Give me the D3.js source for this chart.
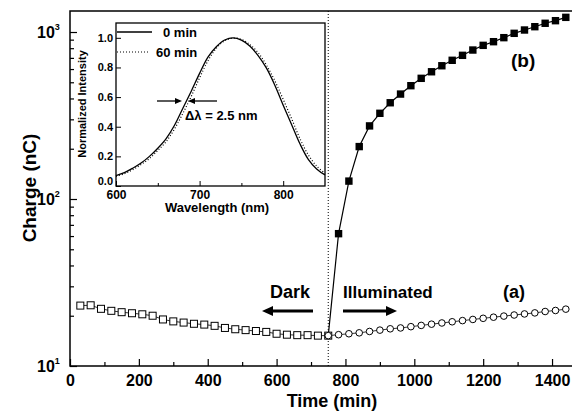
<!DOCTYPE html>
<html>
<head>
<meta charset="utf-8">
<script src="https://d3js.org/d3.v7.min.js"></script>
<style>
  body { margin: 0; background: #fff; }
  text { font-family: "Liberation Sans", Arial, sans-serif; font-weight: bold; fill: #000; }
</style>
</head>
<body>
<div id="chart"></div>
<script>
// Main chart data: charge vs time
var darkTime = [30, 60, 90, 120, 150, 180, 210, 240, 270, 300, 330, 360, 390,
  420, 450, 480, 510, 540, 570, 600, 630, 660, 690, 720, 750];
var darkCharge = [23.0, 23.1, 22.0, 21.4, 21.0, 20.7, 20.4, 20.0, 19.0, 18.5, 18.2,
  17.9, 17.7, 17.4, 16.9, 16.6, 16.4, 16.2, 16.0, 15.6, 15.4, 15.3, 15.3, 15.2, 15.2];

var lightTime = [750, 780, 810, 840, 870, 900, 930, 960, 990, 1020, 1050, 1080,
  1110, 1140, 1170, 1200, 1230, 1260, 1290, 1320, 1350, 1380, 1410, 1440];
var lightChargeA = [15.2, 15.4, 15.6, 15.8, 16.1, 16.4, 16.7, 16.9, 17.2, 17.5, 17.8,
  18.1, 18.4, 18.7, 19.0, 19.3, 19.6, 19.9, 20.2, 20.5, 20.8, 21.2, 21.5, 21.9];
var lightChargeB = [15.2, 62, 128, 206, 274, 326, 377, 425, 477, 528, 578, 628,
  677, 725, 780, 832, 875, 925, 982, 1028, 1076, 1128, 1169, 1224];

var xTicks = [0, 200, 400, 600, 800, 1000, 1200, 1400];
var xMinor = [100, 300, 500, 700, 900, 1100, 1300];
var yTicks = [10, 100, 1000];
var yTickExp = ["1", "2", "3"];
var yMinor = [20, 30, 40, 50, 60, 70, 80, 90, 200, 300, 400, 500, 600, 700, 800, 900];

// Inset data: normalized spectrum
var wavelength = [600, 610, 620, 630, 640, 650, 660, 670, 680, 690, 700, 710, 720,
  730, 740, 750, 760, 770, 780, 790, 800, 810, 820, 830, 840, 850];
var spec0 = [0.07, 0.09, 0.12, 0.155, 0.20, 0.255, 0.32, 0.41, 0.525, 0.64, 0.76,
  0.87, 0.94, 0.985, 1.0, 0.985, 0.945, 0.88, 0.795, 0.68, 0.545, 0.415, 0.285,
  0.18, 0.115, 0.075];
var spec60 = [0.065, 0.083, 0.11, 0.145, 0.185, 0.24, 0.30, 0.385, 0.49, 0.605, 0.73,
  0.845, 0.93, 0.98, 0.998, 0.99, 0.955, 0.9, 0.815, 0.71, 0.585, 0.455, 0.32,
  0.21, 0.135, 0.085];
var insetXTicks = [600, 700, 800];
var insetXMinor = [650, 750];
var insetYTicks = [0, 0.2, 0.4, 0.6, 0.8, 1.0];

var width = 572, height = 413;

var svg = d3.select("#chart").append("svg")
  .attr("width", width)
  .attr("height", height);

// scales of the main plot
var x = d3.scaleLinear().domain([0, 1460]).range([70, 572.7]);
var y = d3.scaleLog().domain([10, 1336]).range([366, 11]);

// frame
svg.append("path")
  .attr("d", "M575,11 H70 V366 H575")
  .attr("fill", "none")
  .attr("stroke", "#000")
  .attr("stroke-width", 1.5);

// x axis (ticks inward)
var gx = svg.append("g").attr("transform", "translate(0,366)");
gx.call(d3.axisBottom(x).tickValues(xTicks).tickSize(-7).tickPadding(9).tickFormat(d3.format("d")));
gx.append("g").call(d3.axisBottom(x).tickValues(xMinor).tickSize(-4).tickFormat(""));
gx.selectAll(".domain").remove();
gx.selectAll("line").attr("stroke-width", 1.2);
gx.selectAll("text").style("font-size", "16px");

// y axis (ticks inward, labels drawn by hand for the exponent)
var gy = svg.append("g").attr("transform", "translate(70,0)");
gy.call(d3.axisLeft(y).tickValues(yTicks).tickSize(-7).tickFormat(""));
gy.append("g").call(d3.axisLeft(y).tickValues(yMinor).tickSize(-4).tickFormat(""));
gy.selectAll(".domain").remove();
gy.selectAll("line").attr("stroke-width", 1.2);

yTicks.forEach(function(v, i) {
  var t = svg.append("text")
    .attr("x", 37)
    .attr("y", y(v) + 6)
    .style("font-size", "16px");
  t.append("tspan").text("10");
  t.append("tspan").attr("dy", -8).style("font-size", "9px").text(yTickExp[i]);
});

// axis titles
svg.append("text")
  .attr("x", 332).attr("y", 407)
  .attr("text-anchor", "middle")
  .style("font-size", "18px")
  .text("Time (min)");

svg.append("text")
  .attr("transform", "translate(36,188) rotate(-90)")
  .attr("text-anchor", "middle")
  .style("font-size", "19px")
  .text("Charge (nC)");

// the dotted line where light is switched on
svg.append("line")
  .attr("x1", x(750)).attr("x2", x(750))
  .attr("y1", 11).attr("y2", 366)
  .attr("stroke", "#000")
  .attr("stroke-width", 1)
  .attr("stroke-dasharray", "1,2");

var line = d3.line()
  .x(function(d) { return x(d[0]); })
  .y(function(d) { return y(d[1]); });

var dark = d3.zip(darkTime, darkCharge);
var lightA = d3.zip(lightTime, lightChargeA);
var lightB = d3.zip(lightTime, lightChargeB);

// series lines
[dark, lightA].forEach(function(s) {
  svg.append("path").datum(s)
    .attr("d", line)
    .attr("fill", "none")
    .attr("stroke", "#000")
    .attr("stroke-width", 0.8);
});
svg.append("path").datum(lightB)
  .attr("d", line)
  .attr("fill", "none")
  .attr("stroke", "#000")
  .attr("stroke-width", 1.2);

// open squares in the dark
svg.selectAll(".sq").data(dark).enter().append("rect")
  .attr("class", "sq")
  .attr("x", function(d) { return x(d[0]) - 3.5; })
  .attr("y", function(d) { return y(d[1]) - 3.5; })
  .attr("width", 7).attr("height", 7)
  .attr("fill", "#fff")
  .attr("stroke", "#000")
  .attr("stroke-width", 1);

// open circles, illuminated (a)
svg.selectAll(".ci").data(lightA).enter().append("circle")
  .attr("class", "ci")
  .attr("cx", function(d) { return x(d[0]); })
  .attr("cy", function(d) { return y(d[1]); })
  .attr("r", 3.3)
  .attr("fill", "#fff")
  .attr("stroke", "#000")
  .attr("stroke-width", 1);

// filled squares, illuminated (b)
svg.selectAll(".fs").data(lightB.slice(1)).enter().append("rect")
  .attr("class", "fs")
  .attr("x", function(d) { return x(d[0]) - 3.7; })
  .attr("y", function(d) { return y(d[1]) - 3.7; })
  .attr("width", 7.4).attr("height", 7.4)
  .attr("fill", "#000");

// annotations
function label(tx, ty, s, size) {
  svg.append("text").attr("x", tx).attr("y", ty)
    .style("font-size", size + "px").text(s);
}
label(270, 298, "Dark", 18);
label(343, 298, "Illuminated", 17);
label(503, 298, "(a)", 18);
label(511, 67, "(b)", 19);

function bigArrow(x1, x2, yy) {
  var dir = x2 > x1 ? 1 : -1;
  svg.append("line")
    .attr("x1", x1).attr("x2", x2 - dir * 8)
    .attr("y1", yy).attr("y2", yy)
    .attr("stroke", "#000").attr("stroke-width", 3);
  svg.append("path")
    .attr("d", "M" + x2 + "," + yy + " L" + (x2 - dir * 11) + "," + (yy - 5) +
      " L" + (x2 - dir * 11) + "," + (yy + 5) + " Z")
    .attr("fill", "#000");
}
bigArrow(313, 262, 311);
bigArrow(343, 397, 311);

// ---- inset ----
var ix = d3.scaleLinear().domain([600, 850]).range([116, 325]);
var iy = d3.scaleLinear().domain([0, 1.1]).range([186, 23]);

var inset = svg.append("g");
inset.append("rect")
  .attr("x", 116).attr("y", 23)
  .attr("width", 209).attr("height", 163)
  .attr("fill", "#fff")
  .attr("stroke", "#000")
  .attr("stroke-width", 1.3);

var gix = inset.append("g").attr("transform", "translate(0,186)");
gix.call(d3.axisBottom(ix).tickValues(insetXTicks).tickSize(-5).tickPadding(4).tickFormat(d3.format("d")));
gix.append("g").call(d3.axisBottom(ix).tickValues(insetXMinor).tickSize(-3).tickFormat(""));
gix.selectAll(".domain").remove();
gix.selectAll("text").style("font-size", "12px");

var giy = inset.append("g").attr("transform", "translate(116,0)");
giy.call(d3.axisLeft(iy).tickValues(insetYTicks).tickSize(-5).tickPadding(3).tickFormat(d3.format(".1f")));
giy.selectAll(".domain").remove();
giy.selectAll("text").style("font-size", "11px")
  .attr("dy", function(d) { return d === 0 ? "-0.1em" : "0.3em"; });

inset.append("text")
  .attr("x", 217).attr("y", 212)
  .attr("text-anchor", "middle")
  .style("font-size", "13px")
  .text("Wavelength (nm)");

inset.append("text")
  .attr("transform", "translate(86,104) rotate(-90)")
  .attr("text-anchor", "middle")
  .style("font-size", "11px")
  .text("Normalized Intensity");

var iline = d3.line()
  .x(function(d) { return ix(d[0]); })
  .y(function(d) { return iy(d[1]); })
  .curve(d3.curveCatmullRom);

inset.append("path").datum(d3.zip(wavelength, spec0))
  .attr("d", iline)
  .attr("fill", "none")
  .attr("stroke", "#000")
  .attr("stroke-width", 1.3);
inset.append("path").datum(d3.zip(wavelength, spec60))
  .attr("d", iline)
  .attr("fill", "none")
  .attr("stroke", "#000")
  .attr("stroke-width", 1.2)
  .attr("stroke-dasharray", "1,2");

// inset legend
inset.append("line").attr("x1", 117).attr("x2", 152).attr("y1", 32).attr("y2", 32)
  .attr("stroke", "#000").attr("stroke-width", 1.3);
inset.append("line").attr("x1", 117).attr("x2", 150).attr("y1", 52).attr("y2", 52)
  .attr("stroke", "#000").attr("stroke-width", 1.2).attr("stroke-dasharray", "1,2");
inset.append("text").attr("x", 163).attr("y", 37).style("font-size", "13px").text("0 min");
inset.append("text").attr("x", 156).attr("y", 57).style("font-size", "13px").text("60 min");

// the delta lambda arrows
function smallArrow(x1, x2, yy) {
  var dir = x2 > x1 ? 1 : -1;
  inset.append("line")
    .attr("x1", x1).attr("x2", x2 - dir * 5)
    .attr("y1", yy).attr("y2", yy)
    .attr("stroke", "#000").attr("stroke-width", 1.3);
  inset.append("path")
    .attr("d", "M" + x2 + "," + yy + " L" + (x2 - dir * 7) + "," + (yy - 3) +
      " L" + (x2 - dir * 7) + "," + (yy + 3) + " Z")
    .attr("fill", "#000");
}
smallArrow(157, 182, 101);
smallArrow(217, 188, 101);
inset.append("text").attr("x", 185).attr("y", 120).style("font-size", "13px").text("\u0394\u03bb = 2.5 nm");
</script>
</body>
</html>
